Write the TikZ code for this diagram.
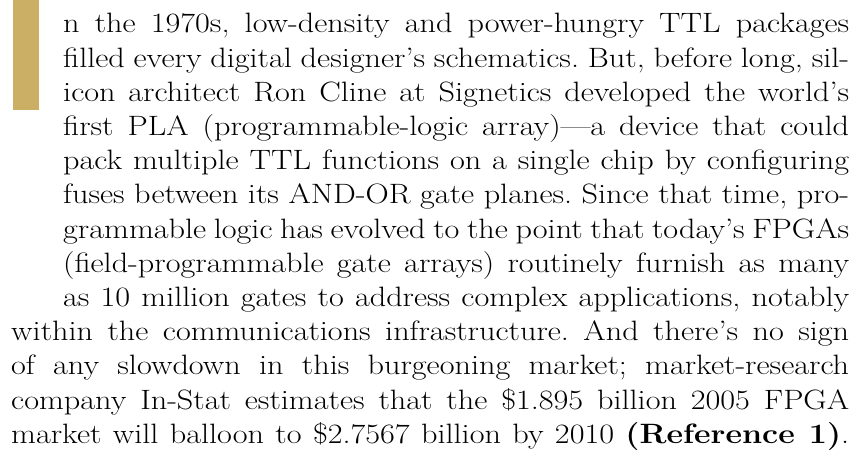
\documentclass[tikz,border=0pt]{standalone}
\usepackage{fontspec}
\setmainfont{Latin Modern Roman}[FakeStretch=1.15]
\definecolor{capbar}{RGB}{202,175,100}
\begin{document}
\frenchspacing
\begin{tikzpicture}[x=1pt,y=-1pt,
  txt/.style={anchor=base west, inner sep=0pt, font=\fontsize{28}{34}\selectfont},
  indented/.style={txt},
  full/.style={txt}]
\useasboundingbox (0,0) rectangle (856,452);
% drop-cap bar
\fill[capbar] (13,0) rectangle (39,110);
% indented lines beside the bar
\node[indented] (l1) at (63,32.8) {\makebox[786pt][s]{n the 1970s, low-density and power-hungry TTL packages}};
\node[indented] (l2) at (63,67.0) {\makebox[786pt][s]{filled every digital designer’s schematics. But, before long, sil-}};
\node[indented] (l3) at (63,101.2) {\makebox[786pt][s]{icon architect Ron Cline at Signetics developed the world’s}};
\node[indented] (l4) at (63,135.4) {\makebox[786pt][s]{first PLA (programmable-logic array)—a device that could}};
\node[indented] (l5) at (63,169.6) {\makebox[786pt][s]{pack multiple TTL functions on a single chip by configuring}};
\node[indented] (l6) at (63,203.8) {\makebox[786pt][s]{fuses between its AND-OR gate planes. Since that time, pro-}};
\node[indented] (l7) at (63,238.0) {\makebox[786pt][s]{grammable logic has evolved to the point that today’s FPGAs}};
\node[indented] (l8) at (63,272.2) {\makebox[786pt][s]{(field-programmable gate arrays) routinely furnish as many}};
\node[indented] (l9) at (63,306.4) {\makebox[786pt][s]{as 10 million gates to address complex applications, notably}};
% full-width lines
\node[full] (l10) at (11,340.6) {\makebox[838pt][s]{within the communications infrastructure. And there’s no sign}};
\node[full] (l11) at (11,374.8) {\makebox[838pt][s]{of any slowdown in this burgeoning market; market-research}};
\node[full] (l12) at (11,409.0) {\makebox[838pt][s]{company In-Stat estimates that the \$1.895 billion 2005 FPGA}};
\node[full] (l13) at (11,443.2) {\makebox[838pt][s]{market will balloon to \$2.7567 billion by 2010 \textbf{(Reference 1)}.}};
\end{tikzpicture}
\end{document}
